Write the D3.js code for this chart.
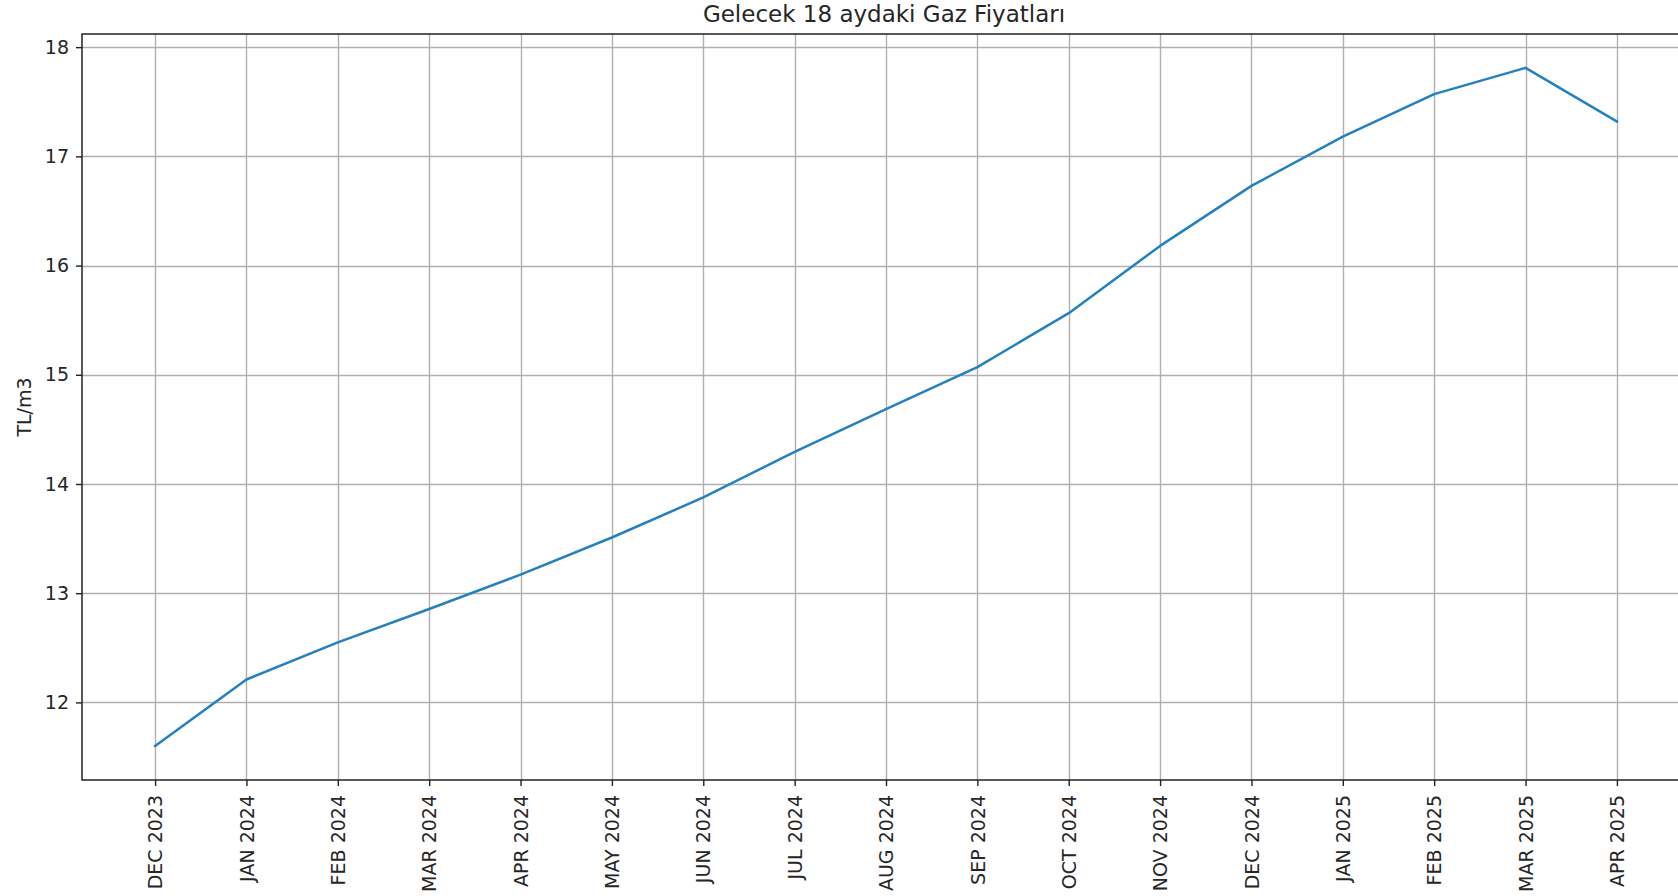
<!DOCTYPE html>
<html>
<head>
<meta charset="utf-8">
<script src="https://cdn.jsdelivr.net/npm/d3@7"></script>
<style>
    html, body { margin: 0; padding: 0; background: #ffffff; }
    svg { display: block; font-family: "DejaVu Sans", sans-serif; }
</style>
</head>
<body>
<div id="chart"></div>
<script>
// Data
var months = ["DEC 2023", "JAN 2024", "FEB 2024", "MAR 2024", "APR 2024", "MAY 2024",
    "JUN 2024", "JUL 2024", "AUG 2024", "SEP 2024", "OCT 2024", "NOV 2024",
    "DEC 2024", "JAN 2025", "FEB 2025", "MAR 2025", "APR 2025"];
var prices = [11.60, 12.21, 12.55, 12.855, 13.17, 13.51, 13.877, 14.295, 14.685,
    15.07, 15.564, 16.18, 16.73, 17.18, 17.57, 17.81, 17.32];
var yTicks = [12, 13, 14, 15, 16, 17, 18];

var title = "Gelecek 18 aydaki Gaz Fiyatları";
var yLabel = "TL/m3";

var width = 1678, height = 896;
// the axes box runs past the right edge of the picture, as in the original
var margin = { left: 82, top: 34, right: -12, bottom: 116 };

var svg = d3.select("#chart").append("svg")
    .attr("width", width)
    .attr("height", height);

svg.append("rect")
    .attr("width", width)
    .attr("height", height)
    .style("fill", "#FFFFFF");

// matplotlib style 5% margins
var n = months.length;
var xPad = (n - 1) * 0.05;
var x = d3.scaleLinear()
    .domain([-xPad, n - 1 + xPad])
    .range([margin.left, width - margin.right]);

var yMin = d3.min(prices), yMax = d3.max(prices);
var yPad = (yMax - yMin) * 0.05;
var y = d3.scaleLinear()
    .domain([yMin - yPad, yMax + yPad])
    .range([height - margin.bottom, margin.top]);

var plot = svg.append("g").attr("class", "plot");

// Grid
plot.append("g").attr("class", "grid-x")
    .selectAll("line")
    .data(d3.range(n))
    .enter().append("line")
    .attr("x1", function (d) { return Math.round(x(d)) + 0.5; })
    .attr("x2", function (d) { return Math.round(x(d)) + 0.5; })
    .attr("y1", y.range()[1])
    .attr("y2", y.range()[0])
    .style("stroke", "#b0b0b0")
    .style("stroke-width", 1.4);

plot.append("g").attr("class", "grid-y")
    .selectAll("line")
    .data(yTicks)
    .enter().append("line")
    .attr("x1", x.range()[0])
    .attr("x2", x.range()[1])
    .attr("y1", function (d) { return Math.round(y(d)) + 0.5; })
    .attr("y2", function (d) { return Math.round(y(d)) + 0.5; })
    .style("stroke", "#b0b0b0")
    .style("stroke-width", 1.4);

// Line
var line = d3.line()
    .x(function (d, i) { return x(i); })
    .y(function (d) { return y(d); });

plot.append("path")
    .datum(prices)
    .attr("d", line)
    .style("fill", "none")
    .style("stroke", "#2580bf")
    .style("stroke-width", 2.5)
    .style("stroke-linejoin", "round")
    .style("stroke-linecap", "square");

// Axes
var xAxis = d3.axisBottom(x)
    .tickValues(d3.range(n))
    .tickFormat(function (i) { return months[i]; })
    .tickSize(6)
    .tickPadding(7)
    .tickSizeOuter(0);

var gx = svg.append("g")
    .attr("class", "x-axis")
    .attr("transform", "translate(0," + y.range()[0] + ")")
    .call(xAxis);
gx.select(".domain").remove();
gx.selectAll(".tick line").style("stroke", "#222").style("stroke-width", 1.4);
gx.selectAll(".tick text")
    .attr("transform", "rotate(-90)")
    .attr("x", -15)
    .attr("y", 0)
    .attr("dy", "0.35em")
    .style("text-anchor", "end")
    .style("font-size", "19px")
    .style("fill", "#262626")
    .style("font-family", "DejaVu Sans, sans-serif");

var yAxis = d3.axisLeft(y)
    .tickValues(yTicks)
    .tickFormat(d3.format("d"))
    .tickSize(6)
    .tickPadding(7)
    .tickSizeOuter(0);

var gy = svg.append("g")
    .attr("class", "y-axis")
    .attr("transform", "translate(" + x.range()[0] + ",0)")
    .call(yAxis);
gy.select(".domain").remove();
gy.selectAll(".tick line").style("stroke", "#222").style("stroke-width", 1.4);
gy.selectAll(".tick text")
    .style("font-size", "19px")
    .style("fill", "#262626")
    .style("font-family", "DejaVu Sans, sans-serif");

// Frame (spines)
svg.append("rect")
    .attr("x", x.range()[0])
    .attr("y", y.range()[1])
    .attr("width", x.range()[1] - x.range()[0])
    .attr("height", y.range()[0] - y.range()[1])
    .style("fill", "none")
    .style("stroke", "#222")
    .style("stroke-width", 1.5);

// Title
svg.append("text")
    .attr("class", "title")
    .attr("x", (x.range()[0] + x.range()[1]) / 2 - 2)
    .attr("y", 22)
    .style("text-anchor", "middle")
    .style("font-size", "23px")
    .style("fill", "#262626")
    .text(title);

// Y label
svg.append("text")
    .attr("class", "y-label")
    .attr("transform", "translate(31," + ((y.range()[0] + y.range()[1]) / 2) + ") rotate(-90)")
    .style("text-anchor", "middle")
    .style("font-size", "19px")
    .style("fill", "#262626")
    .text(yLabel);
</script>
</body>
</html>
